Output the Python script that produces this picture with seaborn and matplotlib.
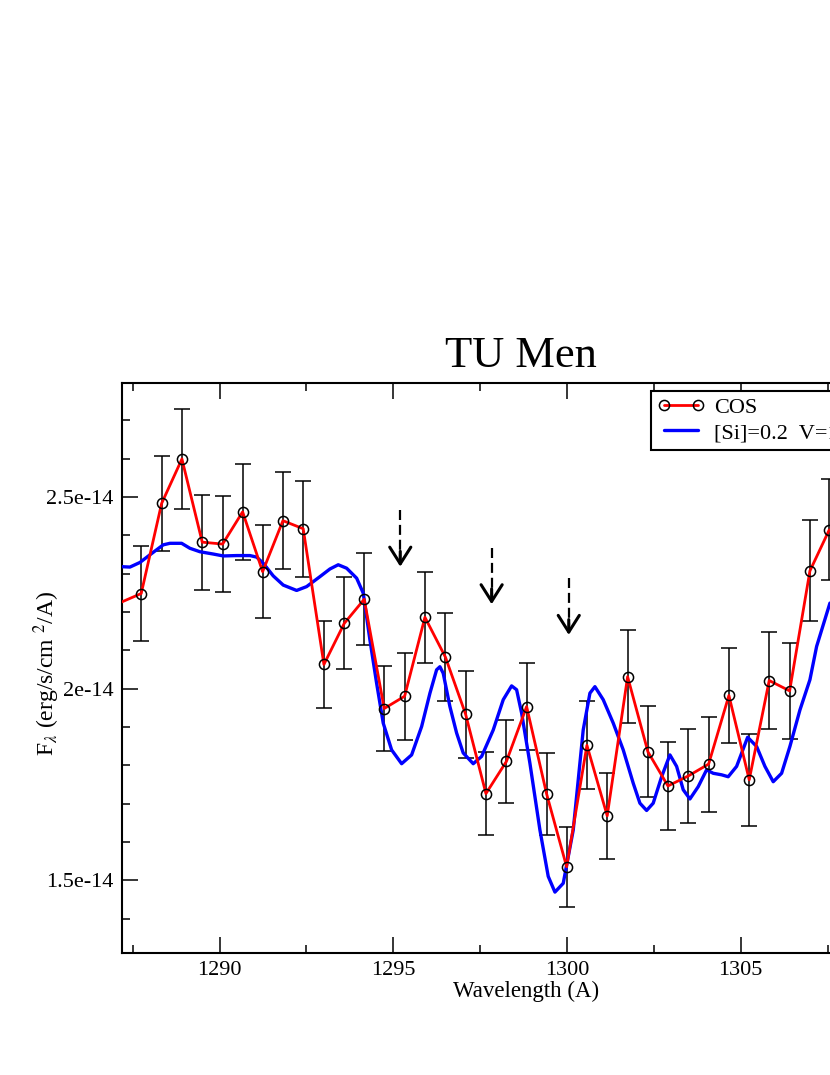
import matplotlib
matplotlib.use('Agg')
import numpy as np
import pandas as pd
import matplotlib.pyplot as plt
from matplotlib.lines import Line2D
from matplotlib.ticker import MultipleLocator, FuncFormatter
import seaborn as sns

# --- data (flux in units of 1e-14 erg/s/cm^2/A) ---
SCALE = 1e-14

cos_wave = [1287.158, 1287.743, 1288.330, 1288.915, 1289.499, 1290.086, 1290.662,
            1291.238, 1291.822, 1292.406, 1293.002, 1293.587, 1294.162, 1294.738,
            1295.325, 1295.910, 1296.500, 1297.081, 1297.666, 1298.256, 1298.837,
            1299.413, 1299.989, 1300.573, 1301.157, 1301.744, 1302.329, 1302.905,
            1303.489, 1304.076, 1304.660, 1305.245, 1305.820, 1306.408, 1306.992,
            1307.548]
cos_flux = [2.225, 2.248, 2.483, 2.599, 2.382, 2.377, 2.461, 2.305, 2.438, 2.417,
            2.063, 2.170, 2.233, 1.948, 1.980, 2.186, 2.082, 1.933, 1.726, 1.810,
            1.953, 1.725, 1.535, 1.852, 1.668, 2.031, 1.835, 1.746, 1.772, 1.803,
            1.982, 1.762, 2.021, 1.994, 2.307, 2.414]
cos_err = [0.120, 0.123, 0.125, 0.131, 0.124, 0.125, 0.126, 0.122, 0.126, 0.125,
           0.114, 0.120, 0.120, 0.111, 0.114, 0.118, 0.115, 0.114, 0.108, 0.108,
           0.114, 0.106, 0.105, 0.115, 0.112, 0.121, 0.119, 0.114, 0.122, 0.124,
           0.124, 0.120, 0.126, 0.126, 0.132, 0.132]

model_wave = [1287.179, 1287.418, 1287.706, 1287.994, 1288.377, 1288.569, 1288.906,
              1289.145, 1289.433, 1289.816, 1290.104, 1290.489, 1290.872, 1291.065,
              1291.255, 1291.543, 1291.831, 1292.216, 1292.504, 1292.887, 1293.175,
              1293.414, 1293.656, 1293.944, 1294.134, 1294.326, 1294.519, 1294.709,
              1294.951, 1295.239, 1295.527, 1295.815, 1296.054, 1296.246, 1296.341,
              1296.436, 1296.629, 1296.822, 1297.012, 1297.300, 1297.542, 1297.876,
              1298.164, 1298.405, 1298.549, 1298.693, 1298.932, 1299.220, 1299.459,
              1299.652, 1299.891, 1300.179, 1300.466, 1300.659, 1300.803, 1301.042,
              1301.330, 1301.618, 1301.906, 1302.098, 1302.291, 1302.481, 1302.723,
              1302.962, 1303.155, 1303.345, 1303.538, 1303.776, 1304.018, 1304.208,
              1304.450, 1304.640, 1304.882, 1305.199, 1305.458, 1305.697, 1305.936,
              1306.177, 1306.416, 1306.704, 1306.992, 1307.185, 1307.568]
model_flux = [2.318, 2.317, 2.329, 2.349, 2.375, 2.379, 2.379, 2.366, 2.357, 2.351,
              2.346, 2.347, 2.347, 2.343, 2.327, 2.294, 2.270, 2.256, 2.266, 2.292,
              2.312, 2.323, 2.314, 2.288, 2.249, 2.127, 2.014, 1.910, 1.840, 1.804,
              1.827, 1.901, 1.988, 2.049, 2.057, 2.040, 1.953, 1.884, 1.832, 1.804,
              1.823, 1.892, 1.971, 2.007, 1.997, 1.936, 1.805, 1.631, 1.510, 1.469,
              1.492, 1.631, 1.892, 1.988, 2.005, 1.971, 1.910, 1.840, 1.753, 1.701,
              1.682, 1.701, 1.770, 1.827, 1.797, 1.736, 1.712, 1.744, 1.788, 1.779,
              1.775, 1.770, 1.797, 1.873, 1.849, 1.797, 1.757, 1.779, 1.849, 1.944,
              2.023, 2.110, 2.223]

# dashed arrows marking the lines
arrow_wave = [1295.20, 1297.83, 1300.05]
arrow_top = [2.466, 2.368, 2.288]
arrow_tip = [2.318, 2.220, 2.140]

XLIM = (1287.19, 1310.16)
YLIM = (1.311, 2.798)

TITLE = 'TU Men'
XLABEL = 'Wavelength (A)'
YLABEL = r'F$_\lambda$ (erg/s/cm $^2$/A)'
LABEL_COS = 'COS'
LABEL_MODEL = '[Si]=0.2  V=10'

# --- style ---
sns.set_theme(style='ticks')
plt.rcParams['font.family'] = ['Liberation Serif', 'DejaVu Serif']
plt.rcParams['mathtext.fontset'] = 'stix'
for key in ['text.color', 'axes.labelcolor', 'xtick.color', 'ytick.color',
            'axes.edgecolor']:
    plt.rcParams[key] = 'black'

cos = pd.DataFrame({'wave': cos_wave,
                    'flux': np.array(cos_flux) * SCALE,
                    'err': np.array(cos_err) * SCALE})
model = pd.DataFrame({'wave': model_wave, 'flux': np.array(model_flux) * SCALE})
inside = cos[(cos['wave'] >= XLIM[0]) & (cos['wave'] <= XLIM[1])]

fig = plt.figure(figsize=(8.3, 10.75), dpi=100)
# axes run past the right edge of the picture (cropped like the original)
ax = fig.add_axes([0.147, 0.1138, 0.9614, 0.5302])

ax.errorbar(inside['wave'], inside['flux'], yerr=inside['err'], fmt='none',
            ecolor='black', elinewidth=1.1, capsize=5.8, capthick=1.1, zorder=2)
sns.lineplot(data=model, x='wave', y='flux', ax=ax, color='#0000ff', lw=2.4,
             sort=False, zorder=3, legend=False)
sns.lineplot(data=cos, x='wave', y='flux', ax=ax, color='#ff0000', lw=2.0,
             sort=False, zorder=4, legend=False)
ax.plot(inside['wave'], inside['flux'], 'o', ms=7.3, mfc='none', mec='black',
        mew=1.1, zorder=5)

for xw, yt, yb in zip(arrow_wave, arrow_top, arrow_tip):
    ax.plot([xw, xw], [yt * SCALE, (yb + 0.02) * SCALE], color='black', lw=1.6,
            dashes=(4.5, 2.2), zorder=6)
    ax.annotate('', xy=(xw, yb * SCALE), xytext=(xw, (yb + 0.04) * SCALE),
                arrowprops=dict(arrowstyle='->,head_length=0.6,head_width=0.38',
                                color='black', lw=2.2, mutation_scale=20,
                                shrinkA=0, shrinkB=0), zorder=6)

ax.set_xlim(*XLIM)
ax.set_ylim(YLIM[0] * SCALE, YLIM[1] * SCALE)
ax.xaxis.set_major_locator(MultipleLocator(5))
ax.xaxis.set_minor_locator(MultipleLocator(2.5))
ax.yaxis.set_major_locator(MultipleLocator(0.5 * SCALE))
ax.yaxis.set_minor_locator(MultipleLocator(0.1 * SCALE))
ax.yaxis.set_major_formatter(FuncFormatter(lambda v, p: '%g' % v))
ax.xaxis.set_major_formatter(FuncFormatter(lambda v, p: '%g' % v))
ax.tick_params(which='both', direction='in', top=True, right=True,
               colors='black', labelcolor='black', width=1.1, labelsize=16)
ax.tick_params(which='major', length=11.5)
ax.tick_params(which='minor', length=6)
ax.tick_params(axis='x', pad=6)
ax.tick_params(axis='y', pad=6)
for sp in ax.spines.values():
    sp.set_linewidth(1.5)
    sp.set_color('black')

ax.set_title(TITLE, fontsize=32, pad=11, color='black')
ax.set_xlabel(XLABEL, fontsize=16.5, color='black')
ax.set_ylabel(YLABEL, fontsize=17, color='black')
ax.xaxis.set_label_coords(0.506, -0.050)
ax.yaxis.set_label_coords(-0.075, 0.49)

handles = [Line2D([], [], color='#ff0000', lw=2.0, marker='o', ms=7.3,
                  mfc='none', mec='black', mew=1.1),
           Line2D([], [], color='#0000ff', lw=2.4)]
leg = fig.legend(handles, [LABEL_COS, LABEL_MODEL], loc='upper left',
                 bbox_to_anchor=(651 / 830, 1 - 391 / 1075), borderaxespad=0,
                 numpoints=2, fontsize=16, frameon=True, fancybox=False,
                 shadow=False, framealpha=1, edgecolor='black', borderpad=0.3,
                 handlelength=2.1, handletextpad=0.42, labelspacing=0.2)
leg.get_frame().set_linewidth(1.5)

fig.savefig('out.png', dpi=100)
